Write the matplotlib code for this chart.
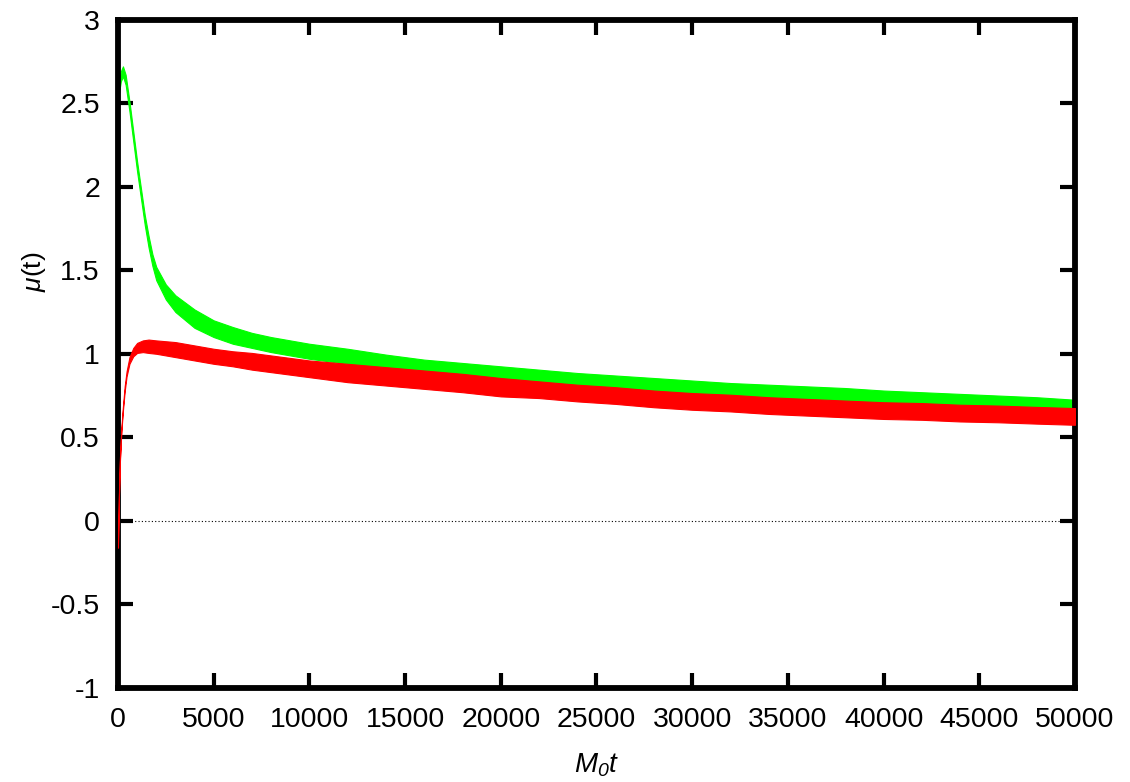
import numpy as np
import matplotlib
matplotlib.use('Agg')
import matplotlib.pyplot as plt

plt.rcParams['font.family'] = ['Liberation Sans', 'DejaVu Sans']
plt.rcParams['mathtext.fontset'] = 'custom'
plt.rcParams['mathtext.rm'] = 'Liberation Sans:italic'
plt.rcParams['mathtext.it'] = 'Liberation Sans:italic'
plt.rcParams['mathtext.default'] = 'it'

# values (centre of each noisy band and its half width)
t_green = [0, 150, 260, 400, 600, 800, 1000, 1200, 1400, 1600, 1800, 2000, 2500, 3000,
           4000, 5000, 6000, 7000, 8000, 9000, 10000, 12000, 14000, 16000, 18000,
           20000, 22000, 24000, 26000, 28000, 30000, 32000, 34000, 36000, 38000,
           40000, 42000, 44000, 46000, 48000, 50000]
mu_green = [2.55, 2.66, 2.69, 2.64, 2.48, 2.30, 2.12, 1.96, 1.80, 1.67, 1.56, 1.48, 1.37, 1.30,
            1.21, 1.15, 1.11, 1.08, 1.055, 1.035, 1.015, 0.985, 0.955, 0.925, 0.90,
            0.88, 0.86, 0.84, 0.825, 0.81, 0.795, 0.78, 0.77, 0.76, 0.75,
            0.74, 0.73, 0.72, 0.71, 0.70, 0.685]
hw_green = [0.03, 0.03, 0.03, 0.03, 0.03, 0.03, 0.03, 0.03, 0.03, 0.035, 0.035, 0.04, 0.045, 0.05,
            0.055, 0.05, 0.05, 0.045, 0.045, 0.045, 0.045, 0.045, 0.04, 0.04, 0.045,
            0.045, 0.045, 0.045, 0.045, 0.045, 0.045, 0.045, 0.045, 0.045, 0.045,
            0.04, 0.04, 0.04, 0.04, 0.04, 0.04]

t_red = [0, 50, 100, 175, 250, 350, 450, 600, 800, 1000, 1300, 1600, 2000, 3000, 4000,
         5000, 6000, 7000, 8000, 9000, 10000, 12000, 14000, 16000, 18000, 20000,
         22000, 24000, 26000, 28000, 30000, 32000, 34000, 36000, 38000, 40000,
         42000, 44000, 46000, 48000, 50000]
mu_red = [-0.15, 0.15, 0.36, 0.54, 0.66, 0.79, 0.88, 0.96, 1.01, 1.035, 1.045, 1.045, 1.04, 1.025, 1.005,
          0.985, 0.97, 0.955, 0.94, 0.925, 0.91, 0.885, 0.865, 0.845, 0.825, 0.80,
          0.785, 0.765, 0.75, 0.73, 0.715, 0.705, 0.69, 0.68, 0.67, 0.66,
          0.655, 0.645, 0.64, 0.632, 0.625]
hw_red = [0.01, 0.01, 0.01, 0.01, 0.012, 0.015, 0.015, 0.02, 0.025, 0.03, 0.035, 0.04, 0.04, 0.045, 0.045,
          0.045, 0.045, 0.05, 0.05, 0.05, 0.05, 0.055, 0.055, 0.055, 0.055, 0.055,
          0.05, 0.05, 0.05, 0.05, 0.05, 0.05, 0.05, 0.05, 0.05, 0.05,
          0.05, 0.05, 0.05, 0.05, 0.05]

x_ticks = [0, 5000, 10000, 15000, 20000, 25000, 30000, 35000, 40000, 45000, 50000]
y_ticks = [-1, -0.5, 0, 0.5, 1, 1.5, 2, 2.5, 3]
y_tick_labels = ['-1', '-0.5', '0', '0.5', '1', '1.5', '2', '2.5', '3']

fig = plt.figure(figsize=(11.3, 7.82), dpi=100)
ax = fig.add_axes([0.1044, 0.1202, 0.8469, 0.8548])

ax.axhline(0, color='black', lw=0.8, ls=(0, (1, 2)), zorder=1)

tg = np.array(t_green); mg = np.array(mu_green); hg = np.array(hw_green)
ax.fill_between(tg, mg - hg, mg + hg, color='#00ff00', lw=0.8, edgecolor='#00ff00', zorder=2)
tr = np.array(t_red); mr = np.array(mu_red); hr = np.array(hw_red)
ax.fill_between(tr, mr - hr, mr + hr, color='#ff0000', lw=0.8, edgecolor='#ff0000', zorder=3)

ax.set_xlim(0, 50000)
ax.set_ylim(-1, 3)
ax.set_xticks(x_ticks)
ax.set_xticklabels([str(v) for v in x_ticks])
ax.set_yticks(y_ticks)
ax.set_yticklabels(y_tick_labels)

for s in ax.spines.values():
    s.set_linewidth(4.2)
ax.tick_params(direction='in', length=11, width=3, labelsize=20.5,
               top=True, right=True)
ax.tick_params(axis='x', pad=14)
ax.tick_params(axis='y', pad=13)

ax.set_xlabel(r'$M_0t$', fontsize=20)
ax.xaxis.set_label_coords(0.5, -0.095)
ax.set_ylabel(r'$\mu$(t)', fontsize=19)
ax.yaxis.set_label_coords(-0.073, 0.622)

fig.savefig('out.png', dpi=100)
